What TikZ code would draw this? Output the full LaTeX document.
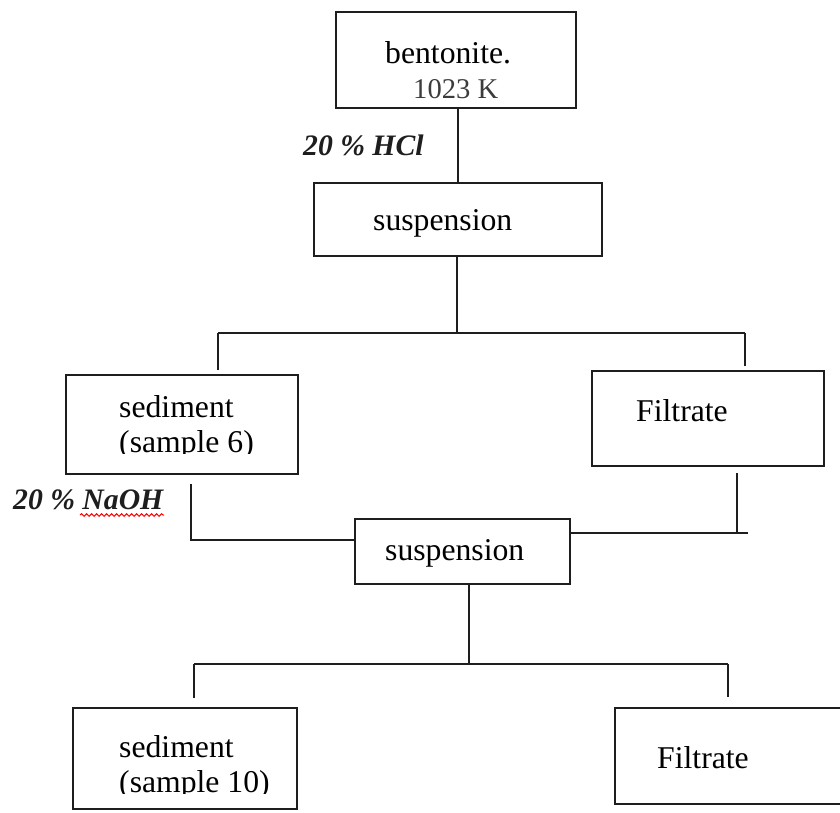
\documentclass[tikz,border=0pt]{standalone}
\usepackage{fontspec}
\setmainfont{Liberation Serif}
\usetikzlibrary{decorations.pathmorphing}
\definecolor{ink}{HTML}{1E1E1E}
\definecolor{tempgray}{HTML}{3C3C3C}
\tikzset{
  stagebox/.style={draw=ink, line width=2.3pt, rectangle, inner sep=0pt, fill=white},
  link/.style={draw=ink, line width=1.8pt},
  label/.style={inner sep=0pt, anchor=base west, text=black,
    font=\fontsize{31.7}{35}\selectfont},
  reagent/.style={inner sep=0pt, anchor=base west, text=ink,
    font=\fontsize{29.7}{33}\selectfont\bfseries\itshape},
  spellmark/.style={red, line width=1pt, decorate,
    decoration={snake, amplitude=1.3pt, segment length=5pt}},
}
\begin{document}
\begin{tikzpicture}[x=1pt,y=-1pt]
\clip (0,0) rectangle (840,812);
\fill[white] (0,0) rectangle (840,812);

% process stages
\node[stagebox, minimum width=240pt, minimum height=96pt] (bent) at (456,60) {};
\node[stagebox, minimum width=288pt, minimum height=73pt] (susA) at (458,219.5) {};
\node[stagebox, minimum width=232pt, minimum height=99pt] (sedA) at (182,424.5) {};
\node[stagebox, minimum width=232pt, minimum height=95pt] (filA) at (708,418.5) {};
\node[stagebox, minimum width=215pt, minimum height=65pt] (susB) at (462.5,551.5) {};
\node[stagebox, minimum width=224pt, minimum height=101pt] (sedB) at (185,758.5) {};
\node[stagebox, minimum width=240pt, minimum height=96pt] (filB) at (735,756) {};

% stage texts
\node[label] (tBent) at (385,63) {bentonite.};
\node[label, text=tempgray, font=\fontsize{28.6}{32}\selectfont] (tTemp) at (413,98) {1023 K};
\node[label] (tSusA) at (373,230) {suspension};
\begin{scope}
  \clip (70,380) rectangle (294,453.5);
  \node[label] (tSedA1) at (119,417) {sediment};
  \node[label] (tSedA2) at (119,452) {(sample 6)};
\end{scope}
\node[label] (tFilA) at (636,421) {Filtrate};
\node[label] (tSusB) at (385,560) {suspension};
\begin{scope}
  \clip (77,712) rectangle (293,793.5);
  \node[label] (tSedB1) at (119,757) {sediment};
  \node[label] (tSedB2) at (119,792) {(sample 10)};
\end{scope}
\node[label] (tFilB) at (657,768) {Filtrate};

% reagents
\node[reagent] (hcl) at (303,155) {20 \% HCl};
\node[reagent] (naoh) at (13,509) {20 \% NaOH};
\coordinate (markL) at (80,515);
\coordinate (markR) at (164,515);
\draw[spellmark] (markL) -- (markR);

% connectors
\coordinate (trunkA) at (458,0);
\coordinate (splitA) at (457,333);
\coordinate (splitAl) at (218,333);
\coordinate (splitAr) at (745,333);
\coordinate (joinL) at (191,540);
\coordinate (dropR) at (737,533);
\coordinate (joinR) at (748,533);
\coordinate (splitB) at (469,664);
\coordinate (splitBl) at (194,664);
\coordinate (splitBr) at (728,664);

\draw[link] (bent.south -| trunkA) -- (susA.north -| trunkA);
\draw[link] (susA.south -| splitA) -- (splitA);
\draw[link] (splitAl) -- (splitAr);
\draw[link] (splitAl) -- ([yshift=4pt]sedA.north -| splitAl);
\draw[link] (splitAr) -- ([yshift=4pt]filA.north -| splitAr);

\draw[link] ([yshift=-9pt]sedA.south -| joinL) -- (joinL) -- (susB.west |- joinL);
\draw[link] ([yshift=-6pt]filA.south -| dropR) -- (dropR);
\draw[link] (susB.east |- joinR) -- (joinR);

\draw[link] (susB.south -| splitB) -- (splitB);
\draw[link] (splitBl) -- (splitBr);
\draw[link] (splitBl) -- ([yshift=9pt]sedB.north -| splitBl);
\draw[link] (splitBr) -- ([yshift=10pt]filB.north -| splitBr);
\end{tikzpicture}
\end{document}
